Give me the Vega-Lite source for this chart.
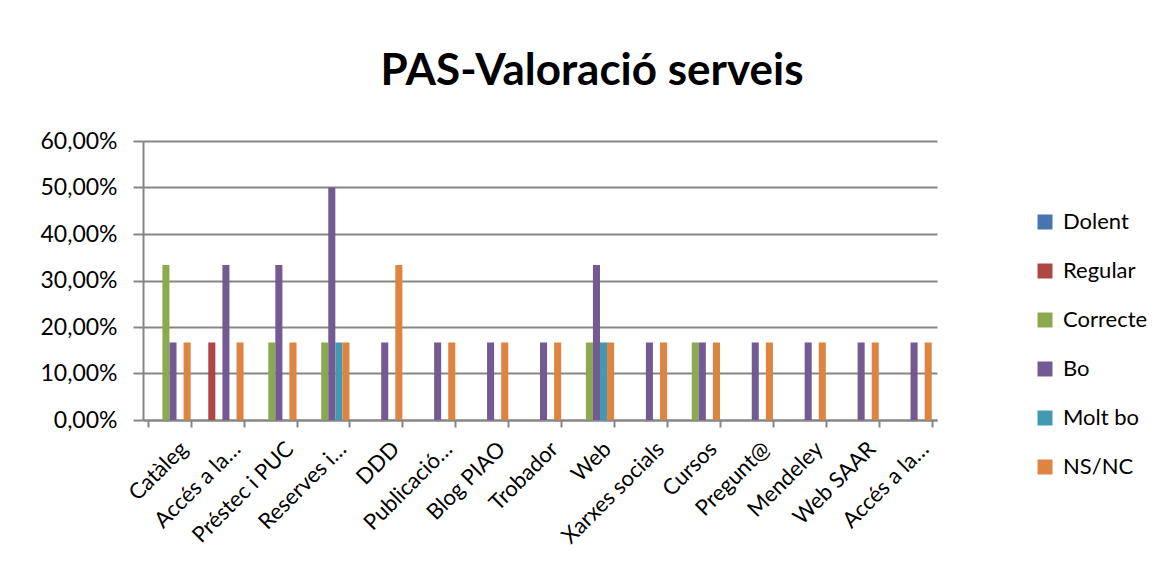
{
  "$schema": "https://vega.github.io/schema/vega-lite/v6.json",
  "width": 794,
  "height": 279,
  "autosize": {"type": "none"},
  "padding": {"left": 143, "top": 141, "right": 227, "bottom": 161},
  "background": "white",
  "title": {
    "text": "PAS-Valoració serveis",
    "font": "Lato",
    "fontSize": 44,
    "fontWeight": "bold",
    "color": "#000000",
    "anchor": "middle",
    "dx": 52,
    "offset": 36
  },
  "config": {
    "font": "Lato",
    "view": {"stroke": null},
    "axis": {"labelFont": "Lato", "labelColor": "#000000"}
  },
  "data": {
    "values": [
      {"servei": "Catàleg", "valoracio": "Correcte", "pct": 0.3333},
      {"servei": "Catàleg", "valoracio": "Bo", "pct": 0.1667},
      {"servei": "Catàleg", "valoracio": "NS/NC", "pct": 0.1667},
      {"servei": "Accés a la…", "valoracio": "Regular", "pct": 0.1667},
      {"servei": "Accés a la…", "valoracio": "Bo", "pct": 0.3333},
      {"servei": "Accés a la…", "valoracio": "NS/NC", "pct": 0.1667},
      {"servei": "Préstec i PUC", "valoracio": "Correcte", "pct": 0.1667},
      {"servei": "Préstec i PUC", "valoracio": "Bo", "pct": 0.3333},
      {"servei": "Préstec i PUC", "valoracio": "NS/NC", "pct": 0.1667},
      {"servei": "Reserves i…", "valoracio": "Correcte", "pct": 0.1667},
      {"servei": "Reserves i…", "valoracio": "Bo", "pct": 0.5},
      {"servei": "Reserves i…", "valoracio": "Molt bo", "pct": 0.1667},
      {"servei": "Reserves i…", "valoracio": "NS/NC", "pct": 0.1667},
      {"servei": "DDD", "valoracio": "Bo", "pct": 0.1667},
      {"servei": "DDD", "valoracio": "NS/NC", "pct": 0.3333},
      {"servei": "Publicació…", "valoracio": "Bo", "pct": 0.1667},
      {"servei": "Publicació…", "valoracio": "NS/NC", "pct": 0.1667},
      {"servei": "Blog PIAO", "valoracio": "Bo", "pct": 0.1667},
      {"servei": "Blog PIAO", "valoracio": "NS/NC", "pct": 0.1667},
      {"servei": "Trobador", "valoracio": "Bo", "pct": 0.1667},
      {"servei": "Trobador", "valoracio": "NS/NC", "pct": 0.1667},
      {"servei": "Web", "valoracio": "Correcte", "pct": 0.1667},
      {"servei": "Web", "valoracio": "Bo", "pct": 0.3333},
      {"servei": "Web", "valoracio": "Molt bo", "pct": 0.1667},
      {"servei": "Web", "valoracio": "NS/NC", "pct": 0.1667},
      {"servei": "Xarxes socials", "valoracio": "Bo", "pct": 0.1667},
      {"servei": "Xarxes socials", "valoracio": "NS/NC", "pct": 0.1667},
      {"servei": "Cursos", "valoracio": "Correcte", "pct": 0.1667},
      {"servei": "Cursos", "valoracio": "Bo", "pct": 0.1667},
      {"servei": "Cursos", "valoracio": "NS/NC", "pct": 0.1667},
      {"servei": "Pregunt@", "valoracio": "Bo", "pct": 0.1667},
      {"servei": "Pregunt@", "valoracio": "NS/NC", "pct": 0.1667},
      {"servei": "Mendeley", "valoracio": "Bo", "pct": 0.1667},
      {"servei": "Mendeley", "valoracio": "NS/NC", "pct": 0.1667},
      {"servei": "Web SAAR", "valoracio": "Bo", "pct": 0.1667},
      {"servei": "Web SAAR", "valoracio": "NS/NC", "pct": 0.1667},
      {"servei": "Accés a la…\u200b", "valoracio": "Bo", "pct": 0.1667},
      {"servei": "Accés a la…\u200b", "valoracio": "NS/NC", "pct": 0.1667}
    ]
  },
  "mark": {"type": "bar"},
  "encoding": {
    "x": {
      "field": "servei",
      "type": "nominal",
      "sort": null,
      "scale": {"paddingInner": 0.2, "paddingOuter": 0.1},
      "axis": {
        "title": null,
        "labelAngle": -45,
        "labelFontSize": 22,
        "labelPadding": 11,
        "labelOffset": 7,
        "labelOverlap": false,
        "labelLimit": 250,
        "tickBand": "extent",
        "tickSize": 7,
        "tickColor": "#868686",
        "tickWidth": 2,
        "domainColor": "#868686",
        "domainWidth": 2
      }
    },
    "xOffset": {
      "field": "valoracio",
      "type": "nominal",
      "scale": {
        "domain": ["Dolent", "Regular", "Correcte", "Bo", "Molt bo", "NS/NC"],
        "paddingInner": 0,
        "paddingOuter": 0
      }
    },
    "y": {
      "field": "pct",
      "type": "quantitative",
      "scale": {"domain": [0, 0.6], "nice": false},
      "axis": {
        "title": null,
        "values": [0, 0.1, 0.2, 0.3, 0.4, 0.5, 0.6],
        "labelExpr": "replace(format(datum.value, '.2%'), '.', ',')",
        "labelFontSize": 23,
        "labelPadding": 16,
        "tickSize": 10,
        "tickColor": "#868686",
        "tickWidth": 2,
        "domainColor": "#868686",
        "domainWidth": 2,
        "grid": true,
        "gridColor": "#868686",
        "gridWidth": 2
      }
    },
    "color": {
      "field": "valoracio",
      "type": "nominal",
      "scale": {
        "domain": ["Dolent", "Regular", "Correcte", "Bo", "Molt bo", "NS/NC"],
        "range": ["#4675B0", "#AC4744", "#8BAA4F", "#735A92", "#4299B1", "#DD8440"]
      },
      "legend": {
        "title": null,
        "orient": "none",
        "legendX": 891,
        "legendY": 70,
        "symbolType": "square",
        "symbolSize": 225,
        "symbolStrokeWidth": 0,
        "labelFontSize": 22,
        "labelColor": "#000000",
        "labelFont": "Lato",
        "rowPadding": 27,
        "labelOffset": 7
      }
    }
  }
}
